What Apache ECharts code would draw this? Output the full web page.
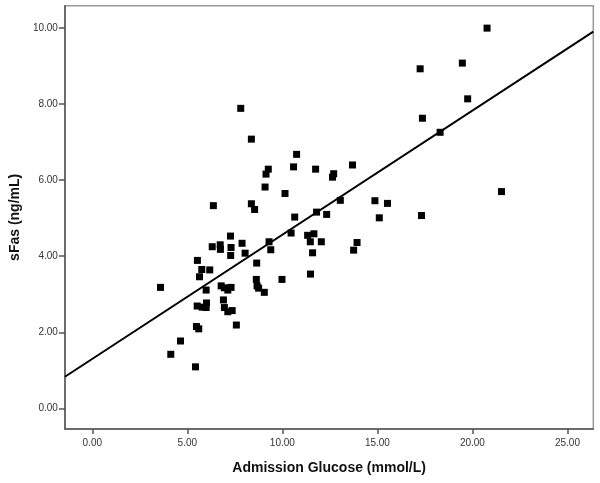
<!DOCTYPE html>
<html>
<head>
<meta charset="utf-8">
<script src="https://cdn.jsdelivr.net/npm/echarts@6/dist/echarts.min.js"></script>
<style>
html,body{margin:0;padding:0;background:#fff;}
#chart{width:600px;height:483px;}
</style>
</head>
<body>
<div id="chart"></div>
<script>
// Admission glucose (mmol/L)
const glucose = [
  7.81, 8.37, 10.75, 9.26, 9.14, 10.59, 11.75, 12.70, 12.64, 9.09,
  10.14, 6.37, 8.37, 8.54, 10.65, 11.80, 12.33, 13.05, 7.27, 10.46,
  11.33, 11.66, 11.47, 12.05, 6.31, 6.73, 6.74, 7.88, 7.30, 9.30,
  9.39, 8.04, 7.28, 11.59, 5.53, 8.65, 5.76, 6.18, 5.64, 11.48,
  9.98, 3.59, 8.63, 8.67, 8.75, 9.05, 5.99, 6.78, 6.95, 7.13,
  7.30, 6.90, 6.95, 7.13, 7.36, 5.52, 5.78, 6.01, 5.99, 7.58,
  5.48, 5.60, 4.64, 4.13, 5.43, 13.69, 14.87, 15.53, 15.10, 17.32,
  13.93, 13.75, 17.37, 18.30, 19.75, 20.77, 17.25, 19.47, 21.53
];
// sFas (ng/mL)
const sfas = [
  7.89, 7.08, 6.68, 6.29, 6.16, 6.35, 6.29, 6.17, 6.08, 5.82,
  5.65, 5.33, 5.38, 5.23, 5.03, 5.16, 5.10, 5.47, 4.53, 4.61,
  4.55, 4.59, 4.38, 4.38, 4.25, 4.30, 4.18, 4.34, 4.23, 4.38,
  4.17, 4.08, 4.02, 4.09, 3.89, 3.82, 3.65, 3.64, 3.46, 3.53,
  3.39, 3.18, 3.39, 3.22, 3.16, 3.05, 3.11, 3.22, 3.17, 3.11,
  3.18, 2.85, 2.65, 2.54, 2.57, 2.69, 2.66, 2.77, 2.65, 2.19,
  2.15, 2.09, 1.77, 1.42, 1.09, 6.40, 5.46, 5.39, 5.01, 5.07,
  4.36, 4.16, 7.63, 7.26, 8.14, 10.00, 8.93, 9.08, 5.70
];
// Linear fit: [intercept, slope]
const fitLine = [1.30, 0.3266];
const xTicks = [0, 5, 10, 15, 20, 25];
const yTicks = [0, 2, 4, 6, 8, 10];
const xRange = [-1.44, 26.36];
const yRange = [-0.545, 10.59];

const points = glucose.map((g, i) => [g, sfas[i]]);
const linePts = xRange.map(x => [x, fitLine[0] + fitLine[1] * x]);

const chart = echarts.init(document.getElementById('chart'), null, {renderer: 'canvas'});
const labelStyle = {
  color: '#333', fontSize: 10, fontFamily: 'Liberation Sans, Arial, sans-serif',
  formatter: v => Number(v).toFixed(2)
};
chart.setOption({
  animation: false,
  backgroundColor: '#fff',
  grid: {left: 64.3, top: 5.7, right: 6.7, bottom: 54, show: true, borderColor: '#999', borderWidth: 1.5, containLabel: false},
  xAxis: {
    type: 'value', min: xRange[0], max: xRange[1],
    name: 'Admission Glucose (mmol/L)', nameLocation: 'middle', nameGap: 32,
    nameTextStyle: {fontSize: 14, fontWeight: 'bold', color: '#111', fontFamily: 'Liberation Sans, Arial, sans-serif'},
    axisLine: {onZero: false, lineStyle: {color: '#555', width: 1.5}},
    axisTick: {show: true, length: 5, customValues: xTicks, lineStyle: {color: '#555', width: 1.5}},
    axisLabel: Object.assign({customValues: xTicks, margin: 9}, labelStyle),
    splitLine: {show: false}
  },
  yAxis: {
    type: 'value', min: yRange[0], max: yRange[1],
    name: 'sFas (ng/mL)', nameLocation: 'middle', nameGap: 41,
    nameTextStyle: {fontSize: 14, fontWeight: 'bold', color: '#111', fontFamily: 'Liberation Sans, Arial, sans-serif'},
    axisLine: {onZero: false, lineStyle: {color: '#555', width: 1.5}},
    axisTick: {show: true, length: 6, customValues: yTicks, lineStyle: {color: '#555', width: 1.5}},
    axisLabel: Object.assign({customValues: yTicks, margin: 7}, labelStyle),
    splitLine: {show: false}
  },
  series: [
    {
      type: 'line', data: linePts, symbol: 'none', silent: true,
      lineStyle: {color: '#000', width: 2}, z: 3
    },
    {
      type: 'scatter', data: points, symbol: 'rect', symbolSize: 7,
      itemStyle: {color: '#000', opacity: 1}, z: 4
    }
  ]
});
</script>
</body>
</html>
